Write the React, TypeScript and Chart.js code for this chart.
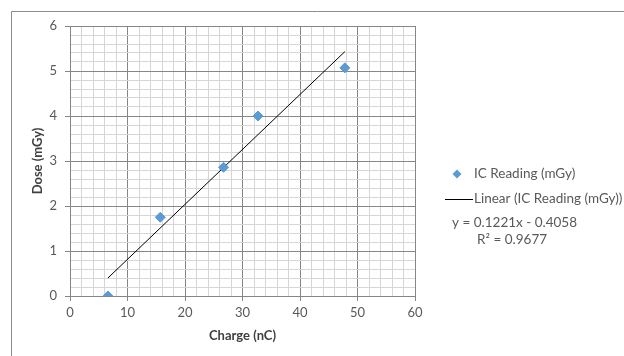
import React, { useEffect, useRef } from "react";
import { Chart, registerables } from "chart.js";

Chart.register(...registerables);

// ---- data ----
const chargeNC = [6.6, 15.7, 26.7, 32.7, 47.8];
const doseMGy = [0, 1.75, 2.86, 4.0, 5.07];
const seriesName = "IC Reading (mGy)";
const trendName = "Linear (IC Reading (mGy))";
const trendSlope = 0.1221;
const trendIntercept = -0.4058;
const trendR2 = 0.9677;
const xAxisTitle = "Charge (nC)";
const yAxisTitle = "Dose (mGy)";
const xTickRange = [0, 60];
const yTickRange = [0, 6];

const FONT = "Lato, 'Open Sans', sans-serif";
const BLUE = "#5B9BD5";
const MAJOR = "#868686";
const MINOR = "#d6d6d6";
const TEXT = "#595959";

const isMajor = (v: number, step: number) =>
  Math.abs(v / step - Math.round(v / step)) < 1e-6;

const framePlugin = {
  id: "frameLegend",
  beforeDraw(chart: any) {
    const ctx = chart.ctx;
    ctx.save();
    ctx.fillStyle = "#ffffff";
    ctx.fillRect(0, 0, chart.width, chart.height);
    ctx.strokeStyle = "#8c8c8c";
    ctx.lineWidth = 1;
    ctx.beginPath();
    ctx.moveTo(11.5, chart.height);
    ctx.lineTo(11.5, 11.5);
    ctx.lineTo(chart.width, 11.5);
    ctx.stroke();
    ctx.restore();
  },
  afterDraw(chart: any) {
    const ctx = chart.ctx;
    const r = chart.chartArea.right;
    ctx.save();
    ctx.font = `13.5px ${FONT}`;
    ctx.fillStyle = TEXT;
    ctx.textBaseline = "middle";
    ctx.textAlign = "left";
    // series marker
    const dx = r + 42, dy = 174, dr = 4.5;
    ctx.beginPath();
    ctx.moveTo(dx - dr, dy);
    ctx.lineTo(dx, dy - dr);
    ctx.lineTo(dx + dr, dy);
    ctx.lineTo(dx, dy + dr);
    ctx.closePath();
    ctx.fillStyle = BLUE;
    ctx.fill();
    ctx.fillStyle = TEXT;
    ctx.fillText(seriesName, r + 59, dy);
    // trend line sample
    ctx.strokeStyle = "#000000";
    ctx.lineWidth = 1;
    ctx.beginPath();
    ctx.moveTo(r + 30, 199.5);
    ctx.lineTo(r + 58, 199.5);
    ctx.stroke();
    ctx.fillText(trendName, r + 59, 199);
    // equation
    const sign = trendIntercept < 0 ? "-" : "+";
    ctx.fillText(
      `y = ${trendSlope}x ${sign} ${Math.abs(trendIntercept)}`,
      r + 37,
      223
    );
    ctx.fillText(`R\u00B2 = ${trendR2}`, r + 62, 240);
    ctx.restore();
  },
};

export default function App() {
  const ref = useRef<HTMLCanvasElement | null>(null);

  useEffect(() => {
    if (!ref.current) return;
    const xMin = Math.min(...chargeNC);
    const xMax = Math.max(...chargeNC);
    const trend = [xMin, xMax].map((x) => ({
      x,
      y: trendSlope * x + trendIntercept,
    }));
    const points = chargeNC.map((x, i) => ({ x, y: doseMGy[i] }));

    const chart = new Chart(ref.current, {
      type: "scatter",
      data: {
        datasets: [
          {
            label: trendName,
            data: trend,
            showLine: true,
            borderColor: "#000000",
            borderWidth: 1,
            pointRadius: 0,
            order: 2,
          },
          {
            label: seriesName,
            data: points,
            pointStyle: "rectRot",
            pointRadius: 5,
            pointBorderWidth: 1,
            backgroundColor: BLUE,
            borderColor: BLUE,
            order: 1,
          },
        ],
      },
      options: {
        animation: false,
        responsive: false,
        devicePixelRatio: 1,
        layout: { padding: { left: 0, top: 26, right: 209, bottom: 0 } },
        plugins: {
          legend: { display: false },
          tooltip: { enabled: false },
        },
        scales: {
          x: {
            type: "linear",
            min: xTickRange[0],
            max: xTickRange[1],
            afterFit: (s: any) => {
              s.height = 60;
            },
            ticks: {
              stepSize: 2,
              autoSkip: false,
              maxTicksLimit: 1000,
              maxRotation: 0,
              padding: 4,
              color: TEXT,
              font: { family: FONT, size: 13 },
              callback: (v: any) => (isMajor(Number(v), 10) ? String(v) : ""),
            },
            grid: {
              color: (c: any) => (isMajor(c.tick.value, 10) ? MAJOR : MINOR),
              tickColor: (c: any) =>
                isMajor(c.tick.value, 10) ? MAJOR : "rgba(0,0,0,0)",
              tickLength: 5,
              lineWidth: 1,
            },
            border: { color: MAJOR },
            title: {
              display: true,
              text: xAxisTitle,
              color: "#404040",
              font: { family: FONT, size: 13, weight: "bold" },
              padding: { top: 4, bottom: 12 },
            },
          },
          y: {
            type: "linear",
            min: yTickRange[0],
            max: yTickRange[1],
            afterFit: (s: any) => {
              s.width = 70;
            },
            ticks: {
              stepSize: 0.2,
              autoSkip: false,
              maxTicksLimit: 1000,
              padding: 8,
              color: TEXT,
              font: { family: FONT, size: 13 },
              callback: (v: any) =>
                isMajor(Number(v), 1) ? String(Math.round(Number(v))) : "",
            },
            grid: {
              color: (c: any) => (isMajor(c.tick.value, 1) ? MAJOR : MINOR),
              tickColor: (c: any) =>
                isMajor(c.tick.value, 1) ? MAJOR : "rgba(0,0,0,0)",
              tickLength: 5,
              lineWidth: 1,
            },
            border: { color: MAJOR },
            title: {
              display: true,
              text: yAxisTitle,
              color: "#404040",
              font: { family: FONT, size: 13, weight: "bold" },
              padding: { top: 30, bottom: 0 },
            },
          },
        },
      },
      plugins: [framePlugin],
    });
    return () => chart.destroy();
  }, []);

  return (
    <div style={{ position: "absolute", left: 0, top: 0, width: 624, height: 356 }}>
      <canvas ref={ref} width={624} height={356} />
    </div>
  );
}
